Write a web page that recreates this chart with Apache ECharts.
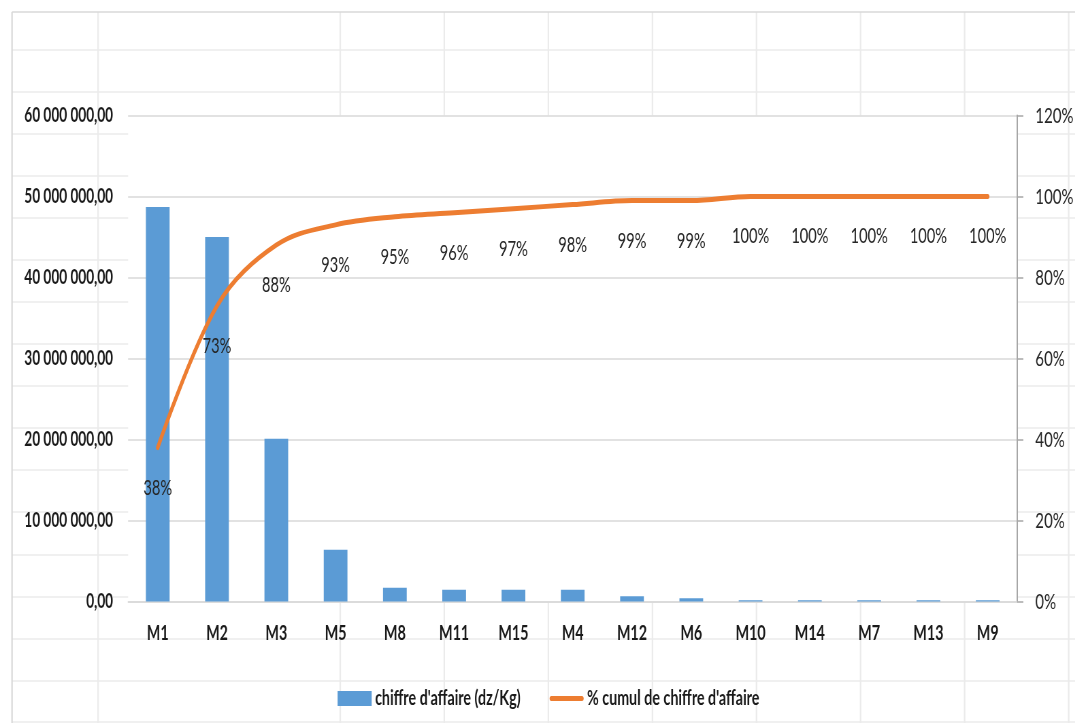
<!DOCTYPE html>
<html>
<head>
<meta charset="utf-8">
<script src="https://cdn.jsdelivr.net/npm/echarts@6/dist/echarts.min.js"></script>
<style>
  html, body { margin: 0; padding: 0; overflow: hidden; background: #ffffff; width: 1075px; height: 723px; }
  #chart { position: absolute; left: 0; top: 0; height: 723px; transform-origin: 0 0; }
</style>
</head>
<body>
<div id="chart"></div>
<script>
// Pareto data: turnover per product, sorted descending
const categories = ['M1', 'M2', 'M3', 'M5', 'M8', 'M11', 'M15', 'M4', 'M12', 'M6', 'M10', 'M14', 'M7', 'M13', 'M9'];
const chiffreAffaire = [48700000, 45000000, 20100000, 6400000, 1700000, 1460000, 1460000, 1460000, 640000, 400000, 150000, 150000, 150000, 150000, 150000];
const cumulPct = [0.38, 0.73, 0.88, 0.93, 0.95, 0.96, 0.97, 0.98, 0.99, 0.99, 1.00, 1.00, 1.00, 1.00, 1.00];

const seriesNames = ["chiffre d'affaire (dz/Kg)", "% cumul de chiffre d'affaire"];

// Axis ranges
const leftMax = 60000000, leftStep = 10000000;
const rightMax = 1.2, rightStep = 0.2;

// The whole drawing is squeezed horizontally (condensed look)
const SX = 0.68;
const PAGE_W = 1075, PAGE_H = 723;
const W = PAGE_W / SX;
const px = x => x / SX;

const el = document.getElementById('chart');
el.style.width = W + 'px';
el.style.transform = 'scaleX(' + SX + ')';

// Worksheet cell lines behind the chart
const sheetRows = [50, 92, 134, 176, 218, 260, 302, 344, 386, 428, 470, 512, 555, 597, 639, 681, 722];
const sheetCols = [98, 340, 444, 548, 652, 756, 860, 964, 1068];
const sheetGraphics = [];
sheetRows.forEach(y => sheetGraphics.push({
  type: 'line', z: -10, silent: true,
  shape: { x1: px(12), y1: y, x2: W, y2: y },
  style: { stroke: '#ebebeb', lineWidth: 1.5 }
}));
sheetCols.forEach(x => sheetGraphics.push({
  type: 'line', z: -10, silent: true,
  shape: { x1: px(x), y1: 12, x2: px(x), y2: PAGE_H },
  style: { stroke: '#ebebeb', lineWidth: 1.5 / SX }
}));
sheetGraphics.push({
  type: 'line', z: -9, silent: true,
  shape: { x1: px(12), y1: 12, x2: W, y2: 12 },
  style: { stroke: '#d9d9d9', lineWidth: 1.5 }
});
sheetGraphics.push({
  type: 'line', z: -9, silent: true,
  shape: { x1: px(12), y1: 12, x2: px(12), y2: PAGE_H },
  style: { stroke: '#d9d9d9', lineWidth: 1.5 / SX }
});

const fmtMoney = v => Math.round(v).toString().replace(/\B(?=(\d{3})+(?!\d))/g, ' ') + ',00';
const fmtPct = v => Math.round(v * 100) + '%';

// Legend key size, and a thick rounded stroke used as the key of the cumulative line
const keyW = px(34), keyH = 15;
const lineKeyIcon = 'path://M0,0M2.5,5L' + (keyW - 2.5) + ',5A2.5,2.5,0,0,1,' + (keyW - 2.5) + ',10L2.5,10A2.5,2.5,0,0,1,2.5,5ZM' + keyW + ',' + keyH;

const chart = echarts.init(el, null, { renderer: 'canvas', width: W, height: PAGE_H });

chart.setOption({
  backgroundColor: '#ffffff',
  animation: false,
  textStyle: { fontFamily: 'Lato' },
  graphic: { elements: sheetGraphics },
  grid: {
    left: px(128), right: W - px(1016.7), top: 115.5, bottom: PAGE_H - 601.5,
    containLabel: false,
    show: true, backgroundColor: '#ffffff', borderWidth: 0
  },
  legend: {
    left: px(334), top: 683,
    itemWidth: keyW, itemHeight: keyH, itemGap: px(29),
    textStyle: { fontFamily: 'Lato', fontWeight: 'bold', fontSize: 21, color: '#1a1a1a' },
    data: [
      { name: seriesNames[0], icon: 'rect' },
      { name: seriesNames[1], icon: lineKeyIcon }
    ]
  },
  xAxis: {
    type: 'category',
    data: categories,
    axisLine: { show: true, lineStyle: { color: '#d9d9d9', width: 1.5 } },
    axisTick: { show: false },
    axisLabel: { margin: 21, fontFamily: 'Lato', fontWeight: 'bold', fontSize: 21, color: '#1a1a1a' }
  },
  yAxis: [
    {
      type: 'value', min: 0, max: leftMax, interval: leftStep,
      axisLine: { show: false }, axisTick: { show: false },
      splitLine: { show: true, lineStyle: { color: '#d9d9d9', width: 1.5 } },
      axisLabel: { margin: px(15), fontFamily: 'Lato', fontWeight: 'bold', fontSize: 20, color: '#1a1a1a', formatter: fmtMoney }
    },
    {
      type: 'value', min: 0, max: rightMax, interval: rightStep, position: 'right',
      axisLine: { show: true, lineStyle: { color: '#a6a6a6', width: 2 } },
      axisTick: { show: true, inside: false, length: px(6), lineStyle: { color: '#a6a6a6', width: 1.5 } },
      splitLine: { show: false },
      axisLabel: { margin: px(18), fontFamily: 'Lato', fontSize: 22, color: '#262626', formatter: fmtPct }
    }
  ],
  series: [
    {
      name: seriesNames[0],
      type: 'bar',
      yAxisIndex: 0,
      data: chiffreAffaire,
      barWidth: '40%',
      itemStyle: { color: '#5b9bd5' }
    },
    {
      name: seriesNames[1],
      type: 'line',
      yAxisIndex: 1,
      data: cumulPct,
      smooth: 0.35,
      symbol: 'circle',
      symbolSize: 0.1,
      showSymbol: true,
      lineStyle: { color: '#ed7d31', width: 5, cap: 'round' },
      itemStyle: { color: '#ed7d31' },
      label: {
        show: true, position: 'bottom', distance: 29,
        fontFamily: 'Lato', fontSize: 21.5, color: '#262626',
        formatter: p => fmtPct(p.value)
      },
      z: 3
    }
  ]
});
</script>
</body>
</html>
